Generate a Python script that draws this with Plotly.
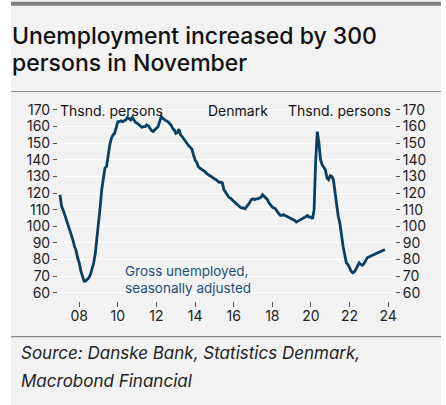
import plotly.graph_objects as go
import pandas as pd

# Gross unemployed, seasonally adjusted (thousand persons), monthly Jan 2007 - Nov 2023
u2007 = [119, 112, 110, 107, 104, 101, 99, 95, 92, 88, 85.5, 81]
u2008 = [78, 73, 70, 67, 67, 68, 69, 71, 74, 78, 84, 92]
u2009 = [100, 112, 122, 129, 135, 136, 143, 149, 153, 155, 156, 160]
u2010 = [163, 163, 163.5, 163, 163.5, 164, 165.5, 164.5, 164, 165.5, 164, 162.5]
u2011 = [162, 161, 160, 159.5, 160, 160, 161, 160.5, 159, 157.5, 157, 158]
u2012 = [159, 160, 163, 166, 165, 164, 163.5, 163, 162, 161, 159, 158]
u2013 = [156, 156.5, 158.5, 155, 154, 152.5, 151, 150, 148.5, 147.5, 146.5, 143]
u2014 = [140, 138.5, 136, 135, 134.5, 133.5, 133, 132, 131, 130.5, 130, 129]
u2015 = [128.5, 128, 127, 126.5, 126.5, 126, 122, 120, 119, 117.5, 117, 116]
u2016 = [115, 114, 113, 112, 111.5, 111, 111, 110.5, 111.5, 113, 114.5, 116]
u2017 = [116.5, 116, 116.5, 116.5, 117, 117.5, 119, 118, 117, 116, 114, 112.5]
u2018 = [111.5, 111, 110.5, 109, 107.5, 106.5, 106.5, 107, 106.5, 106, 105.5, 105]
u2019 = [104.5, 104, 103.5, 102.5, 103, 103.5, 104, 104.5, 105.5, 106, 106.5, 105.5]
u2020 = [105.5, 104.5, 110, 140, 157, 150, 140, 137, 135.5, 134, 129, 128]
u2021 = [130.5, 130, 128, 121, 112, 106, 102, 94, 88, 83, 78, 77]
u2022 = [74.5, 73, 72, 72.5, 74, 76, 78, 77, 76.5, 77.5, 79, 81]
u2023 = [81.5, 82, 82.5, 83, 83, 83.5, 84, 84.5, 85, 85.5, 86]

values = (u2007 + u2008 + u2009 + u2010 + u2011 + u2012 + u2013 + u2014 + u2015
          + u2016 + u2017 + u2018 + u2019 + u2020 + u2021 + u2022 + u2023)
dates = pd.date_range(start="2007-01-01", periods=len(values), freq="MS")

x_tick_years = [2008, 2010, 2012, 2014, 2016, 2018, 2020, 2022, 2024]
x_tick_labels = ["08", "10", "12", "14", "16", "18", "20", "22", "24"]
y_ticks = [60, 70, 80, 90, 100, 110, 120, 130, 140, 150, 160, 170]

W, H = 446, 405
L, R, T, B = 58, 395, 105, 301  # plot area in pixels


def px(x):
    return (x - L) / (R - L)


def py(y):
    return (B - y) / (B - T)


FONT = "Inter"
PANEL = "#f2f2f2"
LINE = "#0a3f63"

fig = go.Figure()
fig.add_trace(go.Scatter(x=dates, y=values, mode="lines",
                         line=dict(color=LINE, width=2.8), hoverinfo="skip",
                         showlegend=False))

axis_font = dict(family=FONT, size=14, color="#222222")
fig.update_layout(
    width=W, height=H,
    margin=dict(l=L, r=W - R, t=T, b=H - B, pad=0, autoexpand=False),
    paper_bgcolor="white",
    plot_bgcolor=PANEL,
    font=dict(family=FONT, size=13, color="#222222"),
    xaxis=dict(
        range=["2006-11-25", "2024-05-10"],
        tickvals=[f"{y}-01-01" for y in x_tick_years],
        ticktext=x_tick_labels,
        ticks="outside", ticklen=5, tickwidth=1, tickcolor="#555555",
        showgrid=False, zeroline=False, showline=False,
        tickfont=axis_font, automargin=False, fixedrange=True,
        ticklabelstandoff=-3,
    ),
    yaxis=dict(
        range=[55, 173], autorange=False,
        tickvals=y_ticks,
        ticks="outside", ticklen=4, tickwidth=1, tickcolor="#555555",
        showgrid=True, gridcolor="white", gridwidth=1,
        zeroline=False, showline=False,
        tickfont=axis_font, automargin=False, fixedrange=True,
    ),
    yaxis2=dict(
        range=[55, 173], autorange=False, overlaying="y", side="right",
        tickvals=y_ticks,
        ticks="outside", ticklen=4, tickwidth=1, tickcolor="#555555",
        showgrid=False, zeroline=False, showline=False,
        tickfont=axis_font, automargin=False, fixedrange=True,
    ),
)

# invisible trace to activate right axis
fig.add_trace(go.Scatter(x=[dates[0]], y=[values[0]], yaxis="y2", mode="markers",
                         marker=dict(opacity=0), hoverinfo="skip", showlegend=False))

shapes = [
    dict(type="rect", xref="paper", yref="paper", x0=px(11), x1=px(441), y0=py(0), y1=py(405),
         fillcolor=PANEL, line=dict(width=0), layer="below"),
    dict(type="rect", xref="paper", yref="paper", x0=px(11), x1=px(441), y0=py(1.7), y1=py(5.7),
         fillcolor="#808080", line=dict(width=0), layer="below"),
    dict(type="line", xref="paper", yref="paper", x0=px(11), x1=px(441), y0=py(91.5), y1=py(91.5),
         line=dict(color="#8a8a8a", width=1.2), layer="below"),
    dict(type="line", xref="paper", yref="paper", x0=px(11), x1=px(441), y0=py(336.7), y1=py(336.7),
         line=dict(color="#8a8a8a", width=1.2), layer="below"),
]
fig.update_layout(shapes=shapes)

annotations = [
    dict(text="Unemployment increased by 300", x=px(10), y=py(35.5), xanchor="left", yanchor="middle",
         font=dict(family=FONT, size=23, color="#111111", weight=500)),
    dict(text="persons in November", x=px(10), y=py(63.5), xanchor="left", yanchor="middle",
         font=dict(family=FONT, size=23, color="#111111", weight=500)),
    dict(text="Thsnd. persons", x=px(58), y=py(110), xanchor="left", yanchor="middle",
         font=dict(family=FONT, size=14, color="#111111")),
    dict(text="Denmark", x=px(206), y=py(110), xanchor="left", yanchor="middle",
         font=dict(family=FONT, size=14, color="#111111")),
    dict(text="Thsnd. persons", x=px(393), y=py(110), xanchor="right", yanchor="middle",
         font=dict(family=FONT, size=14, color="#111111")),
    dict(text="Gross unemployed,", x=px(123), y=py(271.2), xanchor="left", yanchor="middle",
         font=dict(family=FONT, size=13.5, color="#1d4f7a")),
    dict(text="seasonally adjusted", x=px(123), y=py(288), xanchor="left", yanchor="middle",
         font=dict(family=FONT, size=13.5, color="#1d4f7a")),
    dict(text="<i>Source: Danske Bank, Statistics Denmark,</i>", x=px(19), y=py(353), xanchor="left",
         yanchor="middle", font=dict(family=FONT, size=17, color="#222222")),
    dict(text="<i>Macrobond Financial</i>", x=px(19), y=py(381), xanchor="left",
         yanchor="middle", font=dict(family=FONT, size=17, color="#222222")),
]
for a in annotations:
    a.update(xref="paper", yref="paper", showarrow=False)
fig.update_layout(annotations=annotations)

fig.write_html("out.html", config={"displayModeBar": False},
               post_script="document.body.style.margin='0px';")
